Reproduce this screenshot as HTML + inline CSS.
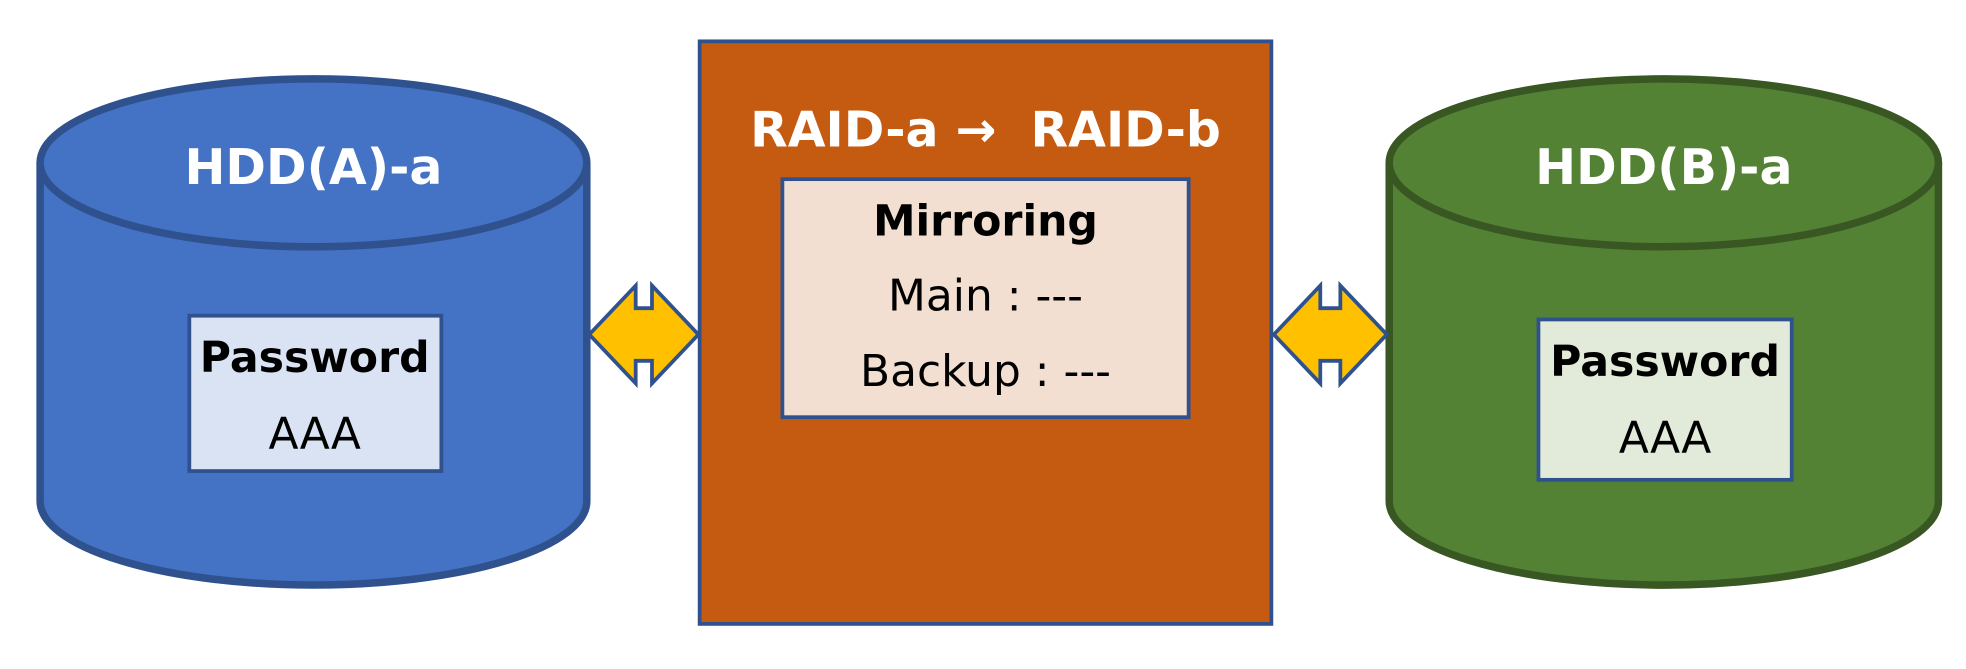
<!DOCTYPE html>
<html><head><style>html,body{margin:0;padding:0;background:#fff;overflow:hidden}svg{display:block}</style></head>
<body>
<svg width="1966" height="669" viewBox="0 0 1568 534" preserveAspectRatio="none" xmlns="http://www.w3.org/2000/svg" font-family="'DejaVu Sans','Liberation Sans',sans-serif" text-anchor="middle">
<path d="M32,130 L32,400 A218,67 0 0 0 468,400 L468,130" fill="#4472C4" stroke="#2F528F" stroke-width="6"/>
<ellipse cx="250" cy="130" rx="218" ry="67" fill="#4472C4" stroke="#2F528F" stroke-width="6"/>
<text x="250" y="147" font-size="39" font-weight="bold" fill="#fff">HDD(A)-a</text>
<rect x="151" y="252" width="201" height="124" fill="#DAE3F3" stroke="#2F528F" stroke-width="3"/>
<text x="251" y="297" font-size="34" font-weight="bold" fill="#000">Password</text>
<text x="251" y="358" font-size="35" fill="#000">AAA</text>
<path d="M1108,130 L1108,400 A219,67 0 0 0 1546,400 L1546,130" fill="#548235" stroke="#385723" stroke-width="6"/>
<ellipse cx="1327" cy="130" rx="219" ry="67" fill="#548235" stroke="#385723" stroke-width="6"/>
<text x="1327" y="147" font-size="39" font-weight="bold" fill="#fff">HDD(B)-a</text>
<rect x="1227" y="255" width="202" height="128" fill="#E2EAD9" stroke="#2F528F" stroke-width="3"/>
<text x="1328" y="300" font-size="34" font-weight="bold" fill="#000">Password</text>
<text x="1328" y="361" font-size="35" fill="#000">AAA</text>
<rect x="558" y="33" width="456" height="465" fill="#C55A11" stroke="#2F528F" stroke-width="3"/>
<text x="786" y="117" font-size="39" font-weight="bold" fill="#fff" xml:space="preserve">RAID-a →  RAID-b</text>
<rect x="624" y="143" width="324" height="190" fill="#F2DFD1" stroke="#2F528F" stroke-width="3"/>
<text x="786" y="188" font-size="34" font-weight="bold" fill="#000">Mirroring</text>
<text x="786" y="248" font-size="35" fill="#000">Main : ---</text>
<text x="786" y="308" font-size="35" fill="#000">Backup : ---</text>
<polygon points="470,267 507,228 507,246 520,246 520,228 557,267 520,306 520,288 507,288 507,306" fill="#FFC000" stroke="#2F528F" stroke-width="3"/>
<polygon points="1016,267 1053,228 1053,246 1069,246 1069,228 1106,267 1069,306 1069,288 1053,288 1053,306" fill="#FFC000" stroke="#2F528F" stroke-width="3"/>
</svg>
</body></html>
